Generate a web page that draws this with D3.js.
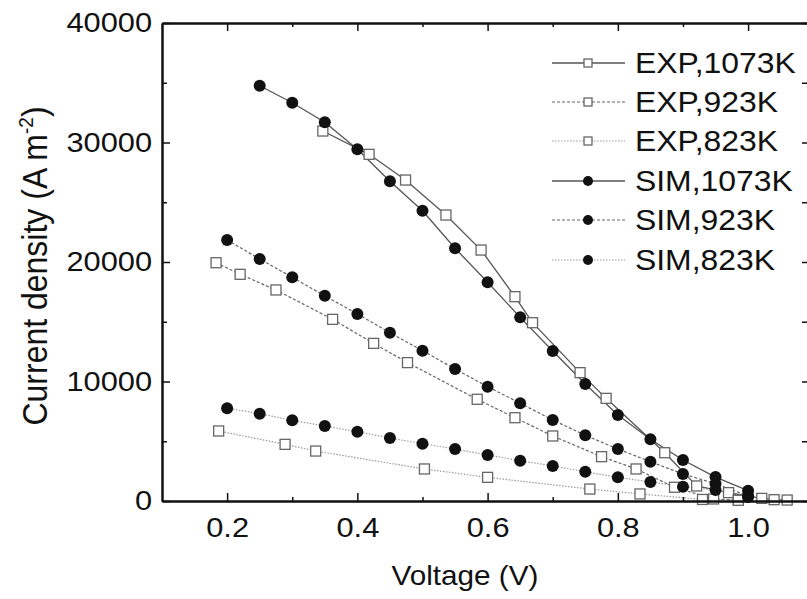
<!DOCTYPE html>
<html>
<head>
<meta charset="utf-8">
<script src="https://cdn.jsdelivr.net/npm/d3@7"></script>
<style>
  body { margin: 0; background: #fff; }
  text { font-family: "Liberation Sans", Arial, sans-serif; fill: #111; }
</style>
</head>
<body>
<svg id="chart" width="807" height="599"></svg>
<script>
// values
const sim1073V = [0.25, 0.30, 0.35, 0.40, 0.45, 0.50, 0.55, 0.60, 0.65, 0.70, 0.75, 0.80, 0.85, 0.90, 0.95, 1.00];
const sim1073J = [34750, 33330, 31690, 29430, 26750, 24290, 21150, 18300, 15370, 12550, 9790, 7200, 5160, 3430, 2000, 860];

const simV = [0.20, 0.25, 0.30, 0.35, 0.40, 0.45, 0.50, 0.55, 0.60, 0.65, 0.70, 0.75, 0.80, 0.85, 0.90, 0.95, 1.00];
const sim923J = [21840, 20250, 18720, 17170, 15650, 14080, 12580, 11050, 9570, 8180, 6780, 5500, 4350, 3290, 2260, 1450, 420];
const sim823J = [7760, 7310, 6750, 6280, 5800, 5270, 4800, 4350, 3850, 3370, 2930, 2450, 1980, 1590, 1200, 920, 330];

const exp1073V = [0.347, 0.418, 0.474, 0.536, 0.590, 0.642, 0.669, 0.742, 0.782, 0.872, 0.921, 0.970, 1.021, 1.040, 1.060];
const exp1073J = [30960, 29010, 26860, 23930, 21000, 17100, 14920, 10740, 8590, 4040, 1260, 700, 220, 110, 80];

const exp923V = [0.183, 0.220, 0.275, 0.362, 0.425, 0.477, 0.584, 0.642, 0.700, 0.775, 0.828, 0.887, 0.947, 0.985];
const exp923J = [19940, 18970, 17660, 15200, 13190, 11580, 8510, 6970, 5440, 3710, 2680, 1150, 170, 90];

const exp823V = [0.187, 0.289, 0.336, 0.503, 0.600, 0.757, 0.834, 0.930, 0.985];
const exp823J = [5860, 4740, 4180, 2680, 1980, 1000, 590, 130, 60];

const xTicks = [0.2, 0.4, 0.6, 0.8, 1.0];
const xMinorTicks = [0.3, 0.5, 0.7, 0.9];
const yTicks = [0, 10000, 20000, 30000, 40000];
const yMinorTicks = [5000, 15000, 25000, 35000];

const seriesNames = ['EXP,1073K', 'EXP,923K', 'EXP,823K', 'SIM,1073K', 'SIM,923K', 'SIM,823K'];

const styles = {
  solid: { stroke: '#555', dash: null, width: 1.3 },
  dashed: { stroke: '#666', dash: '3,2', width: 1.2 },
  dotted: { stroke: '#999', dash: '1.5,1.5', width: 1.2 }
};

const series = [
  { name: seriesNames[0], v: exp1073V, j: exp1073J, marker: 'square', line: styles.solid },
  { name: seriesNames[1], v: exp923V, j: exp923J, marker: 'square', line: styles.dashed },
  { name: seriesNames[2], v: exp823V, j: exp823J, marker: 'square', line: styles.dotted },
  { name: seriesNames[3], v: sim1073V, j: sim1073J, marker: 'circle', line: styles.solid },
  { name: seriesNames[4], v: simV, j: sim923J, marker: 'circle', line: styles.dashed },
  { name: seriesNames[5], v: simV, j: sim823J, marker: 'circle', line: styles.dotted }
];

// the picture is a little wider than it is tall, so text gets stretched
const stretch = 'scale(1.1,1)';

const x = d3.scaleLinear().domain([0.1, 1.092]).range([162, 808]);
const y = d3.scaleLinear().domain([0, 40000]).range([501, 23]);

const svg = d3.select('#chart');

// lines
const line = d3.line().x(d => x(d[0])).y(d => y(d[1]));
series.forEach(s => {
  const pts = s.v.map((v, i) => [v, s.j[i]]);
  svg.append('path').datum(pts)
    .attr('d', line)
    .attr('fill', 'none')
    .attr('stroke', s.line.stroke)
    .attr('stroke-width', s.line.width)
    .attr('stroke-dasharray', s.line.dash);
});

// markers: squares under circles
const drawMarker = (g, kind, cx, cy, big) => {
  if (kind === 'square') {
    const a = big ? 10 : 8;
    g.append('rect').attr('x', cx - a / 2).attr('y', cy - a / 2).attr('width', a).attr('height', a)
      .attr('fill', '#fff').attr('stroke', '#666').attr('stroke-width', 1.3);
  } else {
    g.append('circle').attr('cx', cx).attr('cy', cy).attr('r', big ? 6 : 5).attr('fill', '#111');
  }
};

const marks = svg.append('g');
series.forEach(s => {
  s.v.forEach((v, i) => drawMarker(marks, s.marker, x(v), y(s.j[i]), true));
});

// axes
const axisStyle = g => {
  g.select('.domain').attr('stroke', '#111').attr('stroke-width', 2);
  g.selectAll('.tick line').attr('stroke', '#111').attr('stroke-width', 1.5);
  g.selectAll('.tick text').attr('font-size', 28).attr('fill', '#111')
    .attr('font-family', '"Liberation Sans", Arial, sans-serif')
    .attr('transform', stretch);
};

svg.append('g').attr('transform', 'translate(0,501)')
  .call(d3.axisBottom(x).tickValues(xTicks).tickFormat(d3.format('.1f')).tickSize(-8).tickSizeOuter(0).tickPadding(16))
  .call(axisStyle);
svg.append('g').attr('transform', 'translate(0,501)')
  .call(d3.axisBottom(x).tickValues(xMinorTicks).tickFormat('').tickSize(-4).tickSizeOuter(0))
  .call(axisStyle);

svg.append('g').attr('transform', 'translate(0,23)')
  .call(d3.axisTop(x).tickValues(xTicks).tickFormat('').tickSize(-8).tickSizeOuter(0))
  .call(axisStyle);
svg.append('g').attr('transform', 'translate(0,23)')
  .call(d3.axisTop(x).tickValues(xMinorTicks).tickFormat('').tickSize(-4).tickSizeOuter(0))
  .call(axisStyle);

svg.append('g').attr('transform', 'translate(162,0)')
  .call(d3.axisLeft(y).tickValues(yTicks).tickFormat(d3.format('d')).tickSize(-8).tickSizeOuter(0).tickPadding(9))
  .call(axisStyle);
svg.append('g').attr('transform', 'translate(162,0)')
  .call(d3.axisLeft(y).tickValues(yMinorTicks).tickFormat('').tickSize(-5).tickSizeOuter(0))
  .call(axisStyle);

svg.append('g').attr('transform', 'translate(808,0)')
  .call(d3.axisRight(y).tickValues(yTicks.concat(yMinorTicks)).tickFormat('').tickSize(-6).tickSizeOuter(0))
  .call(axisStyle);

// axis titles
svg.append('text')
  .attr('transform', 'translate(465,585) ' + stretch)
  .attr('text-anchor', 'middle')
  .attr('font-size', 27)
  .text('Voltage (V)');

const yTitle = svg.append('text')
  .attr('transform', 'translate(47,266) ' + stretch + ' rotate(-90)')
  .attr('text-anchor', 'middle')
  .attr('font-size', 32);
yTitle.append('tspan').text('Current density (A m');
yTitle.append('tspan').attr('font-size', 19).attr('dy', -13).text('-2');
yTitle.append('tspan').attr('dy', 13).text(')');

// legend
const legendY = [63, 102, 141, 181, 220, 260];
const legend = svg.append('g');
series.forEach((s, i) => {
  const ly = legendY[i];
  legend.append('line').attr('x1', 552).attr('x2', 625).attr('y1', ly).attr('y2', ly)
    .attr('stroke', s.line.stroke).attr('stroke-width', s.line.width).attr('stroke-dasharray', s.line.dash);
  drawMarker(legend, s.marker, 588, ly, false);
  legend.append('text')
    .attr('transform', `translate(635,${ly}) ` + stretch)
    .attr('dy', '0.36em')
    .attr('font-size', 29)
    .text(s.name);
});
</script>
</body>
</html>
